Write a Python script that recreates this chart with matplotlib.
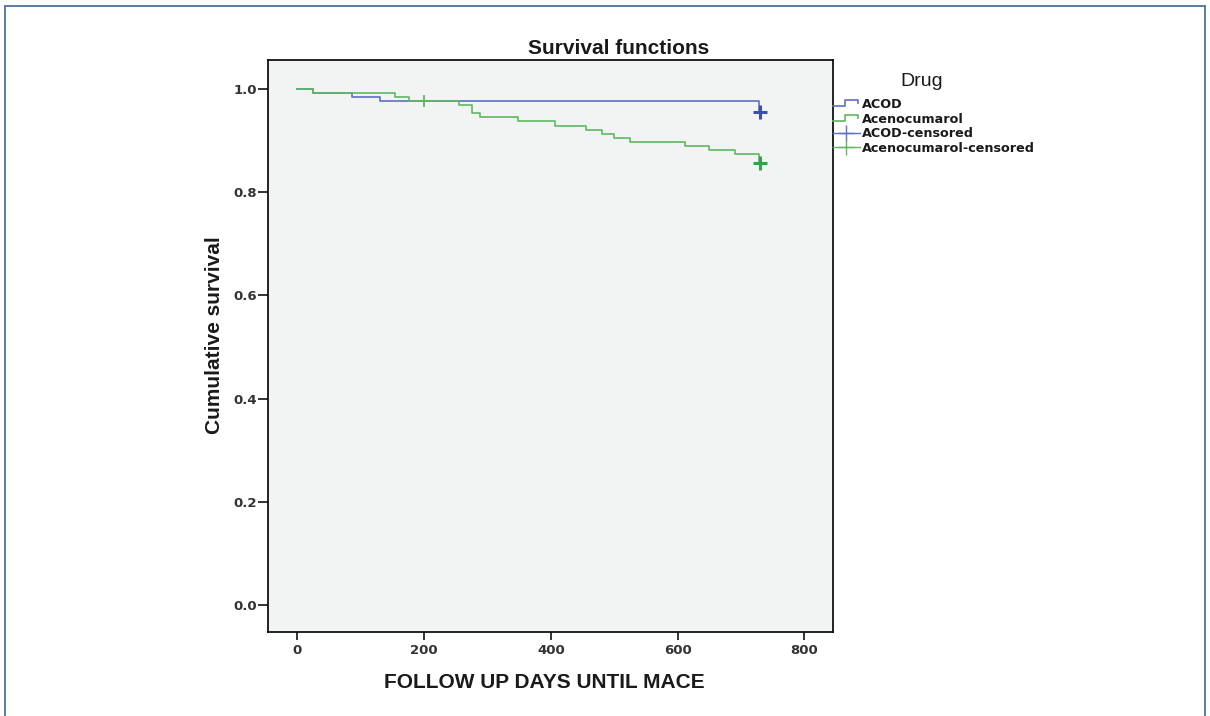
import numpy as np
import matplotlib
matplotlib.use("Agg")
import matplotlib.pyplot as plt
from matplotlib.lines import Line2D
from matplotlib.legend_handler import HandlerBase
from matplotlib.patches import Rectangle

# ---------------- data ----------------
acod_days = [0, 25, 86, 131, 729]
acod_surv = [1.0, 0.992, 0.985, 0.977, 0.956]
acod_end = 730
acod_censor_days = [730]
acod_censor_surv = [0.956]

aceno_days = [0, 25, 155, 176, 255, 276, 288, 348, 407, 455, 481, 499, 525, 612, 650, 690, 729]
aceno_surv = [1.0, 0.992, 0.985, 0.977, 0.969, 0.953, 0.945, 0.937, 0.929, 0.921, 0.913,
              0.905, 0.897, 0.889, 0.881, 0.873, 0.857]
aceno_end = 730
aceno_censor_days = [200, 730]
aceno_censor_surv = [0.977, 0.857]

x_ticks = [0, 200, 400, 600, 800]
y_ticks = [0.0, 0.2, 0.4, 0.6, 0.8, 1.0]
y_tick_labels = ["0.0", "0.2", "0.4", "0.6", "0.8", "1.0"]
legend_labels = ["ACOD", "Acenocumarol", "ACOD-censored", "Acenocumarol-censored"]

# ---------------- style ----------------
W, H = 1210, 716
blue = "#5d70c2"
green = "#5fb862"
blue_dark = "#3c50a8"
green_dark = "#3aa046"

fig = plt.figure(figsize=(W / 100, H / 100), dpi=100)
fig.patch.set_facecolor("white")

# outer frame
fig.add_artist(Rectangle((5 / W, -0.05), 1200 / W, 1.05 - 6 / H, transform=fig.transFigure,
                         fill=False, edgecolor="#4a74a0", lw=1.3, clip_on=False))

ax = fig.add_axes([268 / W, 1 - 632 / H, (833 - 268) / W, (632 - 60) / H])
ax.set_facecolor("#f2f4f4")

ax.step(acod_days + [acod_end], acod_surv + [acod_surv[-1]], where="post", color=blue, lw=1.2, zorder=3)
ax.step(aceno_days + [aceno_end], aceno_surv + [aceno_surv[-1]], where="post", color=green, lw=1.2, zorder=4)
ax.plot(acod_censor_days, acod_censor_surv, ls="none", marker="+", ms=10, mew=2.2, color=blue_dark, zorder=5)
ax.plot(aceno_censor_days[:1], aceno_censor_surv[:1], ls="none", marker="+", ms=9, mew=1.3, color=green, zorder=5)
ax.plot(aceno_censor_days[1:], aceno_censor_surv[1:], ls="none", marker="+", ms=10, mew=2.2, color=green_dark, zorder=5)

ax.set_xlim(-46, 845)
ax.set_ylim(-0.052, 1.056)
ax.set_xticks(x_ticks)
ax.set_xticklabels([str(v) for v in x_ticks])
ax.set_yticks(y_ticks)
ax.set_yticklabels(y_tick_labels)

for s in ax.spines.values():
    s.set_linewidth(1.3)
    s.set_color("#111111")

ax.tick_params(axis="y", direction="out", length=7.5, width=1.2, pad=0.5, colors="#111111",
               labelcolor="#333333", labelsize=9.5)
ax.tick_params(axis="x", direction="out", length=5.5, width=1.2, pad=3.5, colors="#111111",
               labelcolor="#333333", labelsize=9.5)
for lab in ax.get_xticklabels() + ax.get_yticklabels():
    lab.set_fontweight("bold")
    lab.set_fontfamily("DejaVu Sans")

fig.text(619 / W, 1 - 49 / H, "Survival functions", ha="center", va="center",
         fontsize=15, fontweight="bold", family="Liberation Sans", color="#1a1a1a")
fig.text(544 / W, 1 - 683 / H, "FOLLOW UP DAYS UNTIL MACE", ha="center", va="center",
         fontsize=15, fontweight="bold", family="Liberation Sans", color="#1a1a1a")
fig.text(214 / W, 1 - 335 / H, "Cumulative survival", ha="center", va="center", rotation=90,
         fontsize=15, fontweight="bold", family="Liberation Sans", color="#1a1a1a")
fig.text(922 / W, 1 - 81 / H, "Drug", ha="center", va="center",
         fontsize=14, family="Liberation Sans", color="#1a1a1a")


# ---------------- legend ----------------
class StepHandler(HandlerBase):
    def create_artists(self, legend, orig_handle, xdescent, ydescent, width, height, fontsize, trans):
        xs = np.array([0.0, 0.45, 0.45, 0.92, 0.92]) * width - xdescent
        ys = np.array([0.2, 0.2, 0.85, 0.85, 0.55]) * height - ydescent
        ln = Line2D(xs, ys, color=orig_handle.get_color(), lw=1.2)
        ln.set_transform(trans)
        return [ln]


class CensorHandler(HandlerBase):
    def create_artists(self, legend, orig_handle, xdescent, ydescent, width, height, fontsize, trans):
        y = 0.5 * height - ydescent
        ln = Line2D([-xdescent, width - xdescent], [y, y], color=orig_handle.get_color(), lw=1.0)
        mk = Line2D([0.5 * width - xdescent], [y], marker="+", ms=11, mew=1.0, ls="none",
                    color=orig_handle.get_color())
        ln.set_transform(trans)
        mk.set_transform(trans)
        return [ln, mk]


h1 = Line2D([], [], color=blue)
h2 = Line2D([], [], color=green)
h3 = Line2D([], [], color=blue)
h4 = Line2D([], [], color=green)
leg = fig.legend([h1, h2, h3, h4], legend_labels,
                 handler_map={h1: StepHandler(), h2: StepHandler(), h3: CensorHandler(), h4: CensorHandler()},
                 loc="upper left", bbox_to_anchor=(833 / W, 1 - 98 / H), frameon=False,
                 borderpad=0, borderaxespad=0, handlelength=2.1, handletextpad=0.15,
                 labelspacing=0.12, prop={"family": "DejaVu Sans", "weight": "bold", "size": 9.2})
for t in leg.get_texts():
    t.set_color("#1a1a1a")

fig.savefig("out.png", dpi=100)
